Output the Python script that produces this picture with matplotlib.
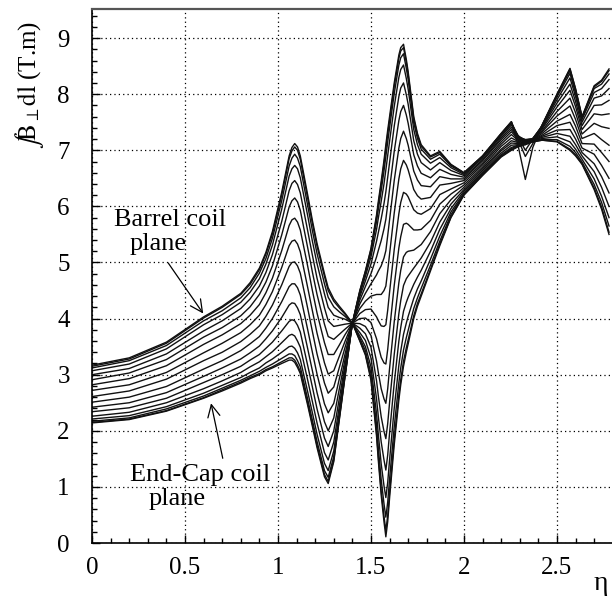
import numpy as np
import matplotlib
matplotlib.use("Agg")
import matplotlib.pyplot as plt
from matplotlib.ticker import MultipleLocator, FormatStrFormatter

plt.rcParams['font.family'] = ['Liberation Serif', 'DejaVu Serif']
plt.rcParams['mathtext.fontset'] = 'stix'

# eta sampling points shared by every curve
eta = [0.00, 0.20, 0.40, 0.60, 0.70, 0.80, 0.85, 0.90, 0.935, 0.97,
       1.02, 1.06, 1.075, 1.09, 1.105, 1.12, 1.16, 1.185, 1.21, 1.25,
       1.27, 1.30, 1.33, 1.36, 1.40, 1.44, 1.47, 1.50, 1.53, 1.54,
       1.555, 1.57, 1.58, 1.59, 1.60, 1.625, 1.65, 1.66, 1.675, 1.69,
       1.70, 1.73, 1.75, 1.77, 1.82, 1.87, 1.93, 2.00, 2.10, 2.20,
       2.255, 2.29, 2.33, 2.37, 2.42, 2.50, 2.57, 2.60, 2.635, 2.70,
       2.74, 2.78]

# field integral (T.m), barrel coil plane first ... end-cap coil plane last
plane_00 = [3.17, 3.30, 3.58, 4.03, 4.22, 4.45, 4.64, 4.90, 5.18, 5.55, 6.25, 6.90, 7.05, 7.12, 7.06, 6.90, 6.20, 5.75, 5.34, 4.80, 4.55, 4.35, 4.22, 4.10, 3.92, 3.60, 3.35, 2.90, 1.90, 1.45, 0.85, 0.38, 0.11, 0.38, 0.80, 1.75, 2.55, 2.82, 3.15, 3.40, 3.55, 4.00, 4.22, 4.40, 4.85, 5.30, 5.80, 6.20, 6.55, 6.88, 7.00, 7.06, 7.10, 7.15, 7.18, 7.15, 7.00, 6.90, 6.75, 6.30, 5.95, 5.50]
plane_01 = [3.15, 3.28, 3.56, 4.01, 4.20, 4.43, 4.61, 4.87, 5.15, 5.51, 6.20, 6.85, 6.99, 7.06, 7.00, 6.84, 6.14, 5.70, 5.29, 4.75, 4.50, 4.31, 4.19, 4.08, 3.92, 3.61, 3.37, 2.94, 1.96, 1.52, 0.93, 0.48, 0.22, 0.49, 0.90, 1.85, 2.64, 2.91, 3.24, 3.48, 3.62, 4.05, 4.27, 4.44, 4.88, 5.33, 5.81, 6.21, 6.56, 6.89, 7.01, 7.07, 7.11, 7.15, 7.18, 7.16, 7.02, 6.92, 6.76, 6.33, 5.99, 5.54]
plane_02 = [3.12, 3.25, 3.52, 3.96, 4.14, 4.37, 4.55, 4.81, 5.07, 5.43, 6.10, 6.72, 6.86, 6.93, 6.86, 6.71, 6.01, 5.57, 5.16, 4.62, 4.38, 4.21, 4.12, 4.04, 3.92, 3.65, 3.43, 3.02, 2.10, 1.68, 1.13, 0.70, 0.46, 0.73, 1.14, 2.07, 2.86, 3.12, 3.44, 3.66, 3.79, 4.18, 4.37, 4.54, 4.95, 5.38, 5.85, 6.22, 6.57, 6.90, 7.03, 7.08, 7.12, 7.16, 7.19, 7.19, 7.07, 6.96, 6.79, 6.39, 6.07, 5.65]
plane_03 = [3.07, 3.19, 3.46, 3.89, 4.07, 4.29, 4.47, 4.71, 4.97, 5.31, 5.95, 6.54, 6.67, 6.73, 6.67, 6.51, 5.83, 5.38, 4.98, 4.44, 4.20, 4.06, 4.02, 3.99, 3.92, 3.69, 3.50, 3.14, 2.30, 1.92, 1.41, 1.02, 0.81, 1.08, 1.48, 2.40, 3.17, 3.42, 3.72, 3.92, 4.04, 4.36, 4.53, 4.67, 5.06, 5.47, 5.90, 6.24, 6.59, 6.92, 7.05, 7.09, 7.13, 7.16, 7.21, 7.24, 7.15, 7.02, 6.84, 6.49, 6.18, 5.80]
plane_04 = [3.00, 3.11, 3.37, 3.78, 3.96, 4.18, 4.35, 4.58, 4.82, 5.14, 5.73, 6.28, 6.41, 6.46, 6.39, 6.24, 5.56, 5.13, 4.72, 4.19, 3.96, 3.86, 3.88, 3.90, 3.92, 3.75, 3.61, 3.30, 2.57, 2.24, 1.80, 1.48, 1.30, 1.57, 1.96, 2.85, 3.60, 3.84, 4.13, 4.29, 4.38, 4.61, 4.74, 4.86, 5.20, 5.59, 5.96, 6.27, 6.61, 6.95, 7.09, 7.10, 7.14, 7.17, 7.23, 7.30, 7.25, 7.10, 6.90, 6.62, 6.34, 6.00]
plane_05 = [2.91, 3.03, 3.27, 3.67, 3.84, 4.05, 4.21, 4.43, 4.65, 4.94, 5.49, 5.99, 6.10, 6.15, 6.08, 5.93, 5.26, 4.83, 4.43, 3.90, 3.68, 3.63, 3.72, 3.81, 3.92, 3.83, 3.73, 3.49, 2.89, 2.61, 2.25, 1.99, 1.86, 2.13, 2.50, 3.36, 4.09, 4.32, 4.59, 4.71, 4.76, 4.90, 4.99, 5.08, 5.36, 5.72, 6.04, 6.30, 6.64, 6.99, 7.13, 7.12, 7.15, 7.17, 7.25, 7.36, 7.37, 7.20, 6.96, 6.76, 6.53, 6.24]
plane_06 = [2.82, 2.93, 3.16, 3.54, 3.71, 3.91, 4.06, 4.25, 4.46, 4.72, 5.21, 5.66, 5.76, 5.79, 5.72, 5.58, 4.93, 4.50, 4.10, 3.57, 3.36, 3.36, 3.53, 3.71, 3.92, 3.91, 3.86, 3.70, 3.24, 3.03, 2.75, 2.57, 2.49, 2.75, 3.11, 3.94, 4.64, 4.86, 5.10, 5.18, 5.20, 5.22, 5.27, 5.32, 5.55, 5.87, 6.12, 6.34, 6.67, 7.02, 7.17, 7.14, 7.16, 7.18, 7.27, 7.44, 7.50, 7.31, 7.04, 6.93, 6.73, 6.50]
plane_07 = [2.72, 2.82, 3.04, 3.39, 3.56, 3.75, 3.89, 4.06, 4.25, 4.48, 4.91, 5.30, 5.38, 5.40, 5.33, 5.19, 4.55, 4.14, 3.74, 3.21, 3.01, 3.07, 3.33, 3.59, 3.92, 4.00, 4.01, 3.93, 3.64, 3.50, 3.31, 3.21, 3.19, 3.45, 3.79, 4.59, 5.26, 5.46, 5.68, 5.70, 5.68, 5.58, 5.58, 5.59, 5.75, 6.04, 6.22, 6.38, 6.70, 7.07, 7.22, 7.16, 7.17, 7.18, 7.30, 7.52, 7.64, 7.43, 7.12, 7.11, 6.96, 6.80]
plane_08 = [2.61, 2.71, 2.92, 3.25, 3.40, 3.59, 3.72, 3.87, 4.04, 4.24, 4.60, 4.93, 5.00, 5.01, 4.94, 4.81, 4.18, 3.77, 3.37, 2.85, 2.67, 2.78, 3.13, 3.48, 3.92, 4.09, 4.16, 4.17, 4.03, 3.96, 3.87, 3.86, 3.89, 4.15, 4.47, 5.23, 5.87, 6.07, 6.25, 6.22, 6.17, 5.94, 5.88, 5.86, 5.96, 6.21, 6.31, 6.42, 6.74, 7.11, 7.28, 7.18, 7.18, 7.19, 7.33, 7.61, 7.79, 7.55, 7.21, 7.30, 7.19, 7.09]
plane_09 = [2.51, 2.60, 2.79, 3.10, 3.25, 3.43, 3.55, 3.68, 3.83, 4.00, 4.30, 4.57, 4.62, 4.62, 4.55, 4.42, 3.80, 3.40, 3.01, 2.48, 2.32, 2.49, 2.93, 3.36, 3.92, 4.18, 4.31, 4.40, 4.43, 4.43, 4.43, 4.50, 4.58, 4.85, 5.15, 5.88, 6.49, 6.67, 6.82, 6.74, 6.65, 6.30, 6.19, 6.13, 6.16, 6.38, 6.41, 6.46, 6.77, 7.15, 7.33, 7.20, 7.18, 7.19, 7.35, 7.69, 7.93, 7.67, 7.29, 7.48, 7.42, 7.39]
plane_10 = [2.42, 2.50, 2.68, 2.97, 3.12, 3.28, 3.39, 3.51, 3.64, 3.78, 4.02, 4.24, 4.28, 4.27, 4.19, 4.07, 3.46, 3.07, 2.68, 2.16, 2.00, 2.23, 2.75, 3.26, 3.92, 4.26, 4.45, 4.62, 4.78, 4.85, 4.94, 5.08, 5.21, 5.48, 5.76, 6.46, 7.04, 7.21, 7.34, 7.21, 7.09, 6.63, 6.47, 6.37, 6.35, 6.53, 6.49, 6.49, 6.81, 7.19, 7.37, 7.22, 7.19, 7.20, 7.38, 7.77, 8.07, 7.78, 7.37, 7.65, 7.63, 7.65]
plane_11 = [2.34, 2.41, 2.58, 2.86, 3.00, 3.15, 3.26, 3.36, 3.47, 3.58, 3.78, 3.95, 3.98, 3.96, 3.88, 3.76, 3.16, 2.78, 2.39, 1.87, 1.72, 2.00, 2.58, 3.17, 3.92, 4.33, 4.57, 4.80, 5.10, 5.22, 5.39, 5.60, 5.77, 6.03, 6.31, 6.98, 7.53, 7.69, 7.80, 7.63, 7.48, 6.92, 6.72, 6.59, 6.51, 6.66, 6.57, 6.52, 6.83, 7.22, 7.41, 7.24, 7.19, 7.20, 7.40, 7.84, 8.18, 7.87, 7.44, 7.80, 7.81, 7.89]
plane_12 = [2.26, 2.33, 2.50, 2.75, 2.89, 3.04, 3.14, 3.23, 3.32, 3.41, 3.57, 3.70, 3.72, 3.69, 3.60, 3.49, 2.90, 2.52, 2.14, 1.61, 1.48, 1.80, 2.44, 3.09, 3.92, 4.39, 4.67, 4.97, 5.38, 5.54, 5.78, 6.05, 6.26, 6.52, 6.78, 7.43, 7.96, 8.11, 8.20, 7.99, 7.82, 7.17, 6.93, 6.78, 6.65, 6.78, 6.64, 6.55, 6.86, 7.25, 7.45, 7.26, 7.18, 7.21, 7.42, 7.90, 8.29, 7.96, 7.50, 7.93, 7.97, 8.10]
plane_13 = [2.21, 2.27, 2.43, 2.67, 2.81, 2.95, 3.04, 3.12, 3.21, 3.28, 3.40, 3.50, 3.51, 3.47, 3.39, 3.27, 2.69, 2.32, 1.94, 1.42, 1.29, 1.64, 2.33, 3.03, 3.92, 4.44, 4.75, 5.10, 5.59, 5.80, 6.09, 6.40, 6.65, 6.91, 7.16, 7.78, 8.30, 8.44, 8.52, 8.28, 8.09, 7.37, 7.10, 6.93, 6.77, 6.87, 6.69, 6.57, 6.88, 7.27, 7.48, 7.27, 7.10, 7.21, 7.43, 7.95, 8.37, 8.02, 7.55, 8.03, 8.10, 8.26]
plane_14 = [2.17, 2.23, 2.39, 2.62, 2.76, 2.90, 2.98, 3.06, 3.13, 3.19, 3.29, 3.37, 3.37, 3.34, 3.25, 3.14, 2.56, 2.19, 1.81, 1.29, 1.17, 1.54, 2.26, 2.98, 3.92, 4.47, 4.81, 5.18, 5.73, 5.96, 6.28, 6.63, 6.89, 7.15, 7.40, 8.01, 8.52, 8.65, 8.72, 8.46, 8.26, 7.49, 7.21, 7.02, 6.84, 6.93, 6.72, 6.59, 6.89, 7.29, 7.50, 7.25, 7.00, 7.20, 7.44, 7.98, 8.42, 8.06, 7.58, 8.10, 8.18, 8.36]
plane_15 = [2.15, 2.21, 2.36, 2.59, 2.73, 2.87, 2.95, 3.02, 3.09, 3.14, 3.23, 3.30, 3.30, 3.26, 3.17, 3.06, 2.49, 2.12, 1.74, 1.22, 1.10, 1.48, 2.22, 2.96, 3.92, 4.49, 4.84, 5.23, 5.81, 6.05, 6.39, 6.76, 7.03, 7.29, 7.53, 8.14, 8.64, 8.77, 8.83, 8.57, 8.35, 7.56, 7.27, 7.07, 6.88, 6.96, 6.74, 6.60, 6.90, 7.30, 7.51, 7.20, 6.89, 7.12, 7.45, 7.99, 8.45, 8.09, 7.59, 8.13, 8.23, 8.42]
plane_16 = [2.14, 2.20, 2.35, 2.58, 2.71, 2.85, 2.93, 3.00, 3.07, 3.12, 3.20, 3.26, 3.26, 3.22, 3.13, 3.02, 2.45, 2.08, 1.70, 1.18, 1.06, 1.45, 2.20, 2.95, 3.92, 4.50, 4.85, 5.25, 5.85, 6.10, 6.45, 6.82, 7.10, 7.36, 7.60, 8.20, 8.70, 8.83, 8.89, 8.62, 8.40, 7.60, 7.30, 7.10, 6.90, 6.98, 6.75, 6.60, 6.90, 7.30, 7.51, 7.10, 6.48, 7.05, 7.45, 8.00, 8.46, 8.10, 7.60, 8.15, 8.25, 8.45]

curves = [plane_00, plane_01, plane_02, plane_03, plane_04, plane_05,
          plane_06, plane_07, plane_08, plane_09, plane_10, plane_11,
          plane_12, plane_13, plane_14, plane_15, plane_16]

fig = plt.figure(figsize=(6.12, 5.97), dpi=100)
ax = fig.add_axes([92 / 612, 54 / 597, 520 / 612, 533.7 / 597])

for c in curves:
    ax.plot(eta, c, color='#111111', lw=1.0, solid_joinstyle='round')

ax.set_xlim(0, 2.796)
ax.set_ylim(0, 9.513)

ax.xaxis.set_major_locator(MultipleLocator(0.5))
ax.xaxis.set_minor_locator(MultipleLocator(0.1))
ax.yaxis.set_major_locator(MultipleLocator(1))
ax.yaxis.set_minor_locator(MultipleLocator(0.2))
ax.xaxis.set_major_formatter(FormatStrFormatter('%g'))
ax.tick_params(which='both', direction='in', top=False, right=False, labelsize=18)
ax.tick_params(which='major', length=6, width=1)
ax.tick_params(which='minor', length=3.5, width=1)
ax.tick_params(axis='y', pad=16)
ax.tick_params(axis='x', pad=10)

ax.grid(True, which='major', color='black', linestyle=(0, (1, 2.5)), lw=0.9)
ax.spines['right'].set_visible(False)
ax.spines['top'].set_color('#555555')
ax.spines['top'].set_linewidth(1.6)
ax.spines['left'].set_linewidth(1.2)
ax.spines['bottom'].set_linewidth(1.2)

# labels
fig.text(30 / 612, 1 - 85 / 597, r'$\int\!\mathrm{B}_{\perp}\mathrm{dl}$ (T.m)',
         rotation=90, ha='center', va='center', fontsize=18)
fig.text(601 / 612, 1 - 583 / 597, 'η', ha='center', va='center', fontsize=20)

# annotations
ax.text(0.419, 5.76, 'Barrel coil', ha='center', va='center', fontsize=19)
ax.text(0.357, 5.33, 'plane', ha='center', va='center', fontsize=19)
ax.annotate('', xy=(0.598, 4.09), xytext=(0.41, 4.99),
            arrowprops=dict(arrowstyle='->', color='black', lw=0.9,
                            mutation_scale=22, shrinkA=0, shrinkB=0))
ax.text(0.583, 1.21, 'End-Cap coil', ha='center', va='center', fontsize=19)
ax.text(0.457, 0.78, 'plane', ha='center', va='center', fontsize=19)
ax.annotate('', xy=(0.640, 2.49), xytext=(0.703, 1.51),
            arrowprops=dict(arrowstyle='->', color='black', lw=0.9,
                            mutation_scale=22, shrinkA=0, shrinkB=0))

fig.savefig('out.png', dpi=100)
